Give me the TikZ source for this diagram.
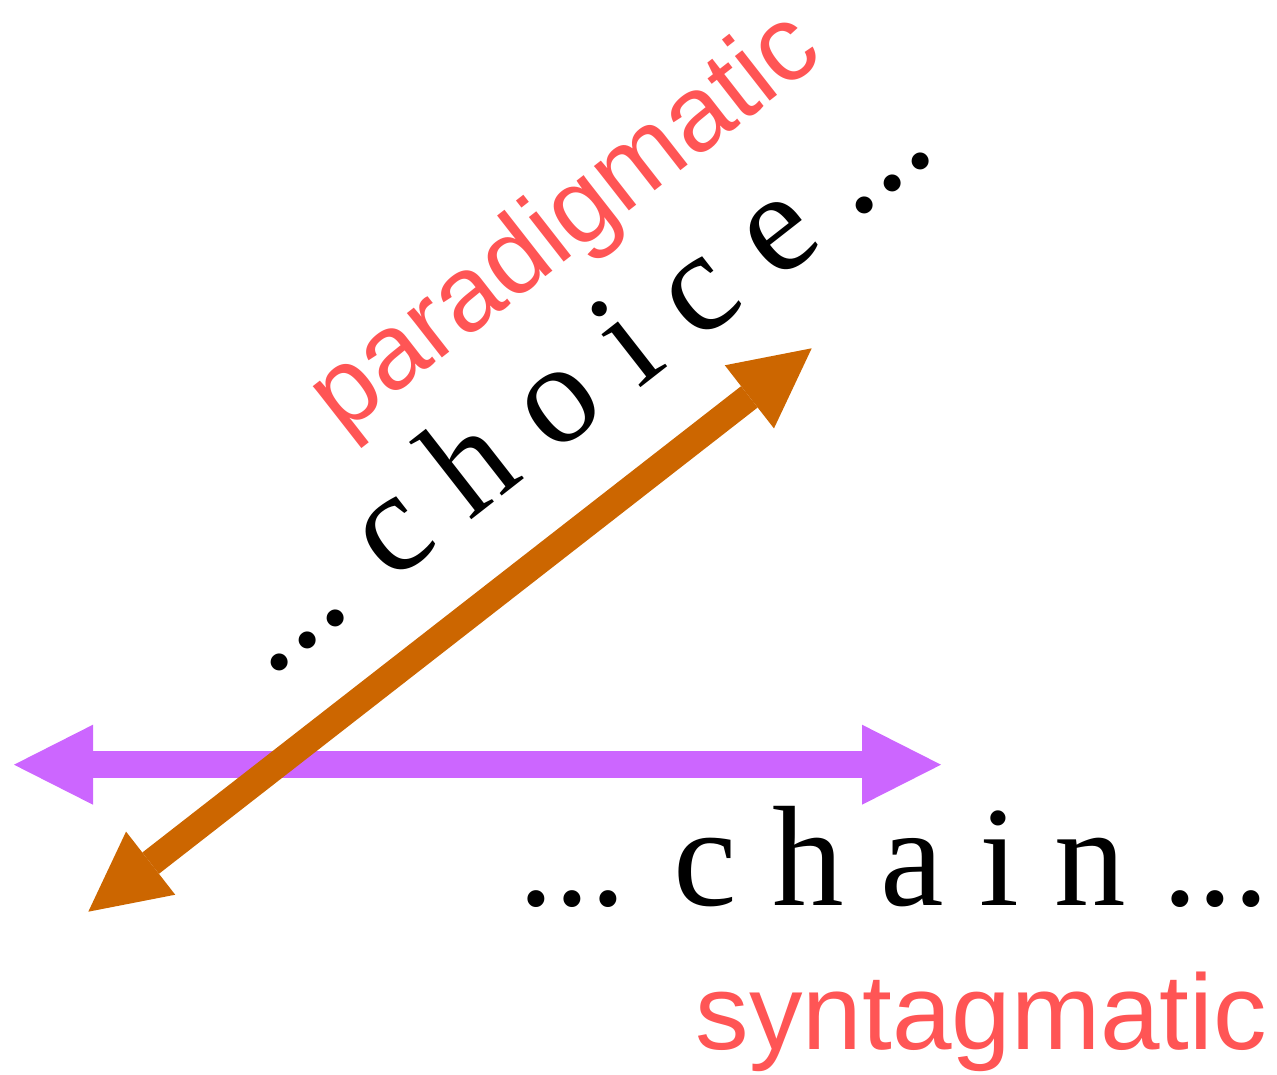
\documentclass[tikz,border=0pt]{standalone}
\usepackage{fontspec}
\setmainfont{Liberation Serif}
\newfontfamily\lblfont{Liberation Sans}
\usetikzlibrary{arrows.meta}
\definecolor{purp}{HTML}{CC66FF}
\definecolor{ornge}{HTML}{CC6600}
\definecolor{lbl}{HTML}{FF5555}
\begin{document}
\begin{tikzpicture}[x=1pt,y=-1pt,line join=miter,
		relarrow/.style={line width=27pt,{Triangle[length=79pt,width=80pt,line width=0pt]}-{Triangle[length=79pt,width=80pt,line width=0pt]}},
		wordtxt/.style={inner sep=0pt,anchor=base west,font=\fontsize{143}{150}\selectfont},
		lbltxt/.style={inner sep=0pt,anchor=base west,text=lbl,font=\lblfont\fontsize{107}{112}\selectfont}]
	\useasboundingbox (0,0) rectangle (1277,1075);
	\def\ang{38} % tilt of the paradigmatic axis
	\coordinate (synL) at (14,764.7);
	\coordinate (synR) at (941,764.7);
	\coordinate (parB) at (88.3,911.7);
	\coordinate (parT) at (811.7,348.3);
	\node[wordtxt] (chain) at (518.5,905) {... c h a i n ...};
	\node[lbltxt] (syn) at (695.7,1049.3) {syntagmatic};
	\node[wordtxt,rotate=\ang] (choice) at (269,678.5) {... c h o i c e ...};
	\node[lbltxt,rotate=\ang] (par) at (342.6,435.4) {paradigmatic};
	\draw[relarrow,purp] (synL) -- (synR);
	\draw[relarrow,ornge] (parB) -- (parT);
\end{tikzpicture}
\end{document}
